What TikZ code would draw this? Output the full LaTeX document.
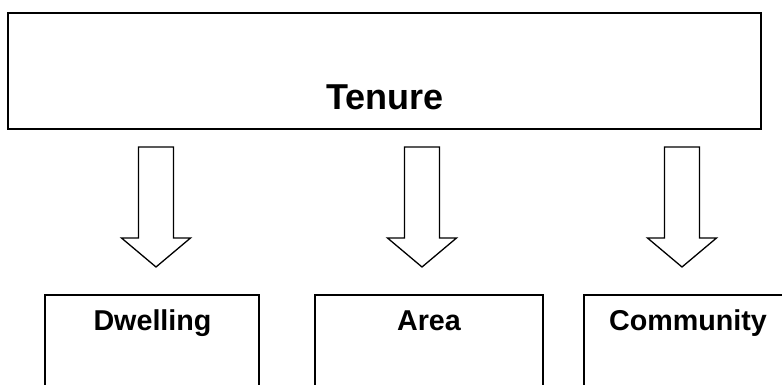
\documentclass[tikz,border=0pt]{standalone}
\usepackage{fontspec}
\setmainfont{Liberation Sans}
\begin{document}
\begin{tikzpicture}[x=1pt,y=-1pt,
  box/.style={draw, line width=1.8pt},
  blockarrow/.style={draw, line width=1.3pt, line join=miter},
  bigtext/.style={font=\bfseries\fontsize{36}{40}\selectfont, anchor=base},
  labeltext/.style={font=\bfseries\fontsize{28.7}{32}\selectfont, anchor=base}]

  \useasboundingbox (0,0) rectangle (782,385);
  \clip (0,0) rectangle (782,385);

  % top box
  \draw[box] (8,13) rectangle (761,129);
  \node[bigtext] (tenure) at (385,110) {Tenure};

  % block arrows
  \foreach \name/\x in {toDwelling/156, toArea/422, toCommunity/682} {
    \coordinate (\name) at (\x,267);
    \draw[blockarrow] (\x-17.5,147) -- (\x+17.5,147) -- (\x+17.5,238) -- (\x+34.5,238)
      -- (\name) -- (\x-34.5,238) -- (\x-17.5,238) -- cycle;
  }

  % bottom boxes (cut off at the lower edge)
  \draw[box] (45,295) rectangle (259,400);
  \draw[box] (315,295) rectangle (543,400);
  \draw[box] (584,295) rectangle (800,400);
  \node[labeltext] (dwelling) at (152.5,330) {Dwelling};
  \node[labeltext] (area) at (429,330) {Area};
  \node[labeltext] (community) at (688,330) {Community};

\end{tikzpicture}
\end{document}
